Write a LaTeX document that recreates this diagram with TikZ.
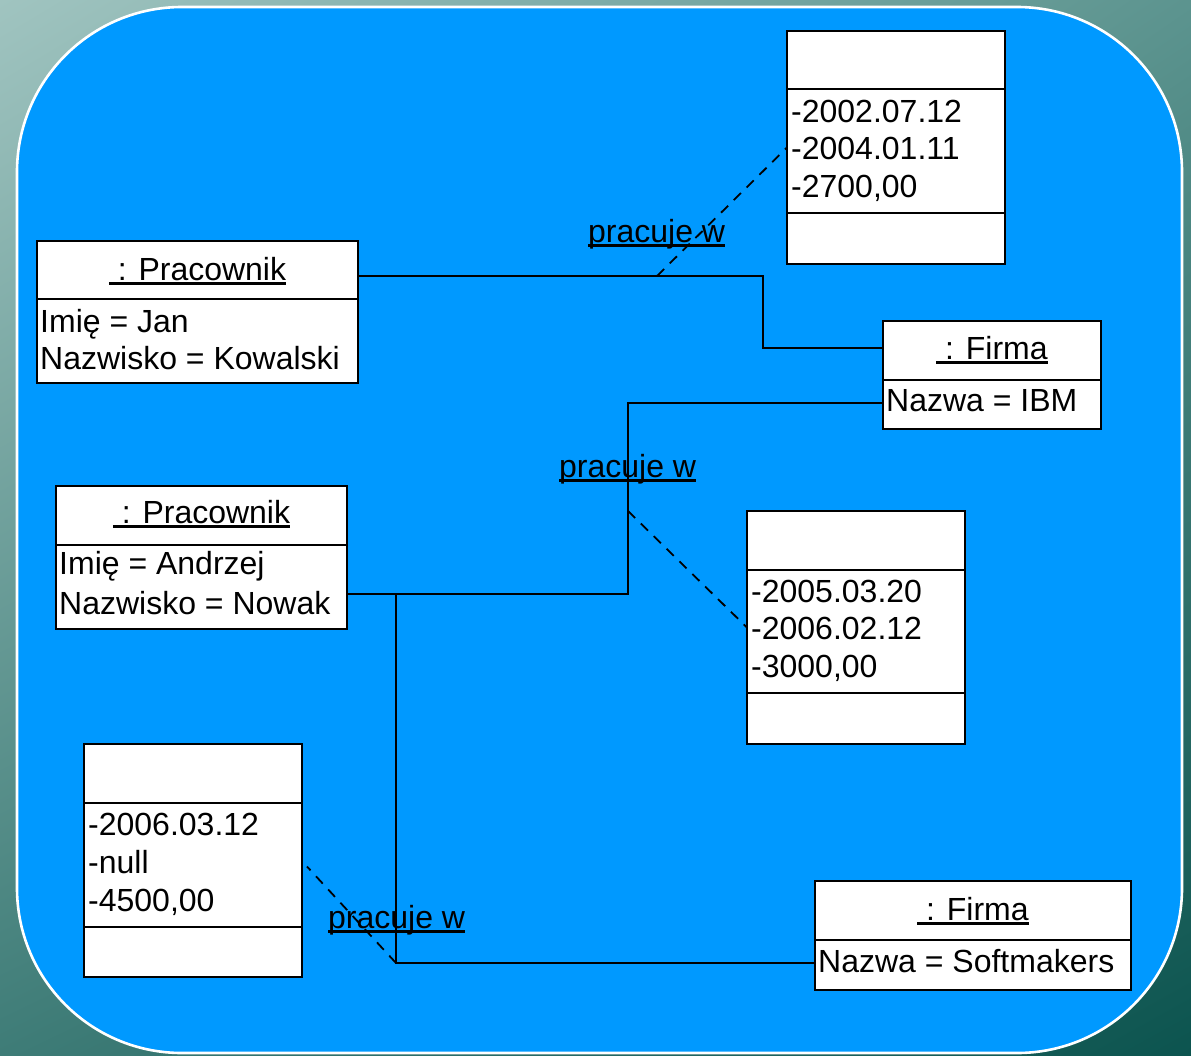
\documentclass[tikz,border=0pt]{standalone}
\usepackage{fontspec}
\setmainfont{Liberation Sans}
\usetikzlibrary{calc,shadings}

\definecolor{bgUL}{RGB}{160,196,192}
\definecolor{bgUR}{RGB}{92,148,143}
\definecolor{bgLL}{RGB}{62,124,119}
\definecolor{bgLR}{RGB}{12,84,79}
\definecolor{panel}{RGB}{0,153,255}

% underlined text with a heavier rule
\newcommand\ulined[1]{\setbox0\hbox{#1}\rlap{\rule[-4.6pt]{\wd0}{2.7pt}}\box0}

\tikzset{
  obj/.style={draw=black, line width=2.8pt, fill=white, anchor=north west,
              inner sep=0pt, outer sep=0pt},
  sep/.style={line width=2.8pt},
  txt/.style={inner sep=0pt, anchor=base west, font=\fontsize{32}{38}\selectfont},
  ttl/.style={inner sep=0pt, anchor=base, font=\fontsize{32}{38}\selectfont},
  link/.style={line width=1.8pt},
  dep/.style={line width=1.8pt, dash pattern=on 10pt off 8pt},
}

\begin{document}
\begin{tikzpicture}[x=1pt, y=-1pt]
\useasboundingbox (0,0) rectangle (1191,1055);

% background and panel
\shade[upper left=bgUL, upper right=bgUR, lower left=bgLL, lower right=bgLR]
  (0,0) rectangle (1191,1055);
\draw[white, line width=2.6pt, fill=panel, rounded corners=165pt]
  (17,7) rectangle (1182,1053);

% ---------- objects ----------
% Pracownik: Jan Kowalski
\node[obj, minimum width=321pt, minimum height=142pt] (jan) at (37,241) {};
\draw[sep] ($(jan.north west)+(0,58)$) -- ($(jan.north east)+(0,58)$);
\node[ttl] (janT) at ($(jan.north)+(0,39)$) {\ulined{\ : Pracownik}};
\node[txt] (janA) at ($(jan.north west)+(3,91)$) {Imię = Jan};
\node[txt] (janB) at ($(jan.north west)+(3,128)$) {Nazwisko = Kowalski};

% Pracownik: Andrzej Nowak
\node[obj, minimum width=291pt, minimum height=143pt] (andrzej) at (56,486) {};
\draw[sep] ($(andrzej.north west)+(0,59)$) -- ($(andrzej.north east)+(0,59)$);
\node[ttl] (andT) at ($(andrzej.north)+(0,37)$) {\ulined{\ : Pracownik}};
\node[txt] (andA) at ($(andrzej.north west)+(3,88)$) {Imię = Andrzej};
\node[txt] (andB) at ($(andrzej.north west)+(3,128)$) {Nazwisko = Nowak};

% Firma: IBM
\node[obj, minimum width=218pt, minimum height=108pt] (ibm) at (883,321) {};
\draw[sep] ($(ibm.north west)+(0,59)$) -- ($(ibm.north east)+(0,59)$);
\node[ttl] (ibmT) at ($(ibm.north)+(0,38)$) {\ulined{\ : Firma}};
\node[txt] (ibmA) at ($(ibm.north west)+(3,90)$) {Nazwa = IBM};

% Firma: Softmakers
\node[obj, minimum width=316pt, minimum height=109pt] (soft) at (815,881) {};
\draw[sep] ($(soft.north west)+(0,59)$) -- ($(soft.north east)+(0,59)$);
\node[ttl] (softT) at ($(soft.north)+(0,39)$) {\ulined{\ : Firma}};
\node[txt] (softA) at ($(soft.north west)+(3,91)$) {Nazwa = Softmakers};

% association objects (employment data)
\node[obj, minimum width=218pt, minimum height=233pt] (d1) at (787,31) {};
\draw[sep] ($(d1.north west)+(0,58)$) -- ($(d1.north east)+(0,58)$);
\draw[sep] ($(d1.north west)+(0,182)$) -- ($(d1.north east)+(0,182)$);
\node[txt] (d1a) at ($(d1.north west)+(4,91)$) {-2002.07.12};
\node[txt] (d1b) at ($(d1.north west)+(4,128)$) {-2004.01.11};
\node[txt] (d1c) at ($(d1.north west)+(4,166)$) {-2700,00};

\node[obj, minimum width=218pt, minimum height=233pt] (d2) at (747,511) {};
\draw[sep] ($(d2.north west)+(0,59)$) -- ($(d2.north east)+(0,59)$);
\draw[sep] ($(d2.north west)+(0,182)$) -- ($(d2.north east)+(0,182)$);
\node[txt] (d2a) at ($(d2.north west)+(4,91)$) {-2005.03.20};
\node[txt] (d2b) at ($(d2.north west)+(4,128)$) {-2006.02.12};
\node[txt] (d2c) at ($(d2.north west)+(4,166)$) {-3000,00};

\node[obj, minimum width=218pt, minimum height=233pt] (d3) at (84,744) {};
\draw[sep] ($(d3.north west)+(0,59)$) -- ($(d3.north east)+(0,59)$);
\draw[sep] ($(d3.north west)+(0,183)$) -- ($(d3.north east)+(0,183)$);
\node[txt] (d3a) at ($(d3.north west)+(4,91)$) {-2006.03.12};
\node[txt] (d3b) at ($(d3.north west)+(4,129)$) {-null};
\node[txt] (d3c) at ($(d3.north west)+(4,167)$) {-4500,00};

% ---------- links ----------
\coordinate (kA) at (763,0);
\coordinate (kB) at (628,0);
\coordinate (kC) at (396,0);
\coordinate (dA) at (657,0);
\coordinate (ja) at ($(jan.north east)+(0,35)$);
\coordinate (ia) at ($(ibm.north west)+(0,27)$);
\coordinate (an) at ($(andrzej.north east)+(0,108)$);
\coordinate (ib) at ($(ibm.north west)+(0,82)$);
\coordinate (sm) at ($(soft.north west)+(0,82)$);
\coordinate (pB) at (628,511);

\draw[link] (ja) -- (ja -| kA) |- (ia);
\draw[link] (an) -- (an -| kB) |- (ib);
\draw[link] (an -| kC) |- (sm);

\draw[dep] (ja -| dA) -- (d1.west);
\draw[dep] (pB) -- (d2.west);
\draw[dep] (sm -| kC) -- ($(d3.east)+(5,6)$);

% link names
\node[txt] (lA) at (588,242) {\ulined{pracuje w}};
\node[txt] (lB) at (559,477) {\ulined{pracuje w}};
\node[txt] (lC) at (328,928) {\ulined{pracuje w}};
\end{tikzpicture}
\end{document}
